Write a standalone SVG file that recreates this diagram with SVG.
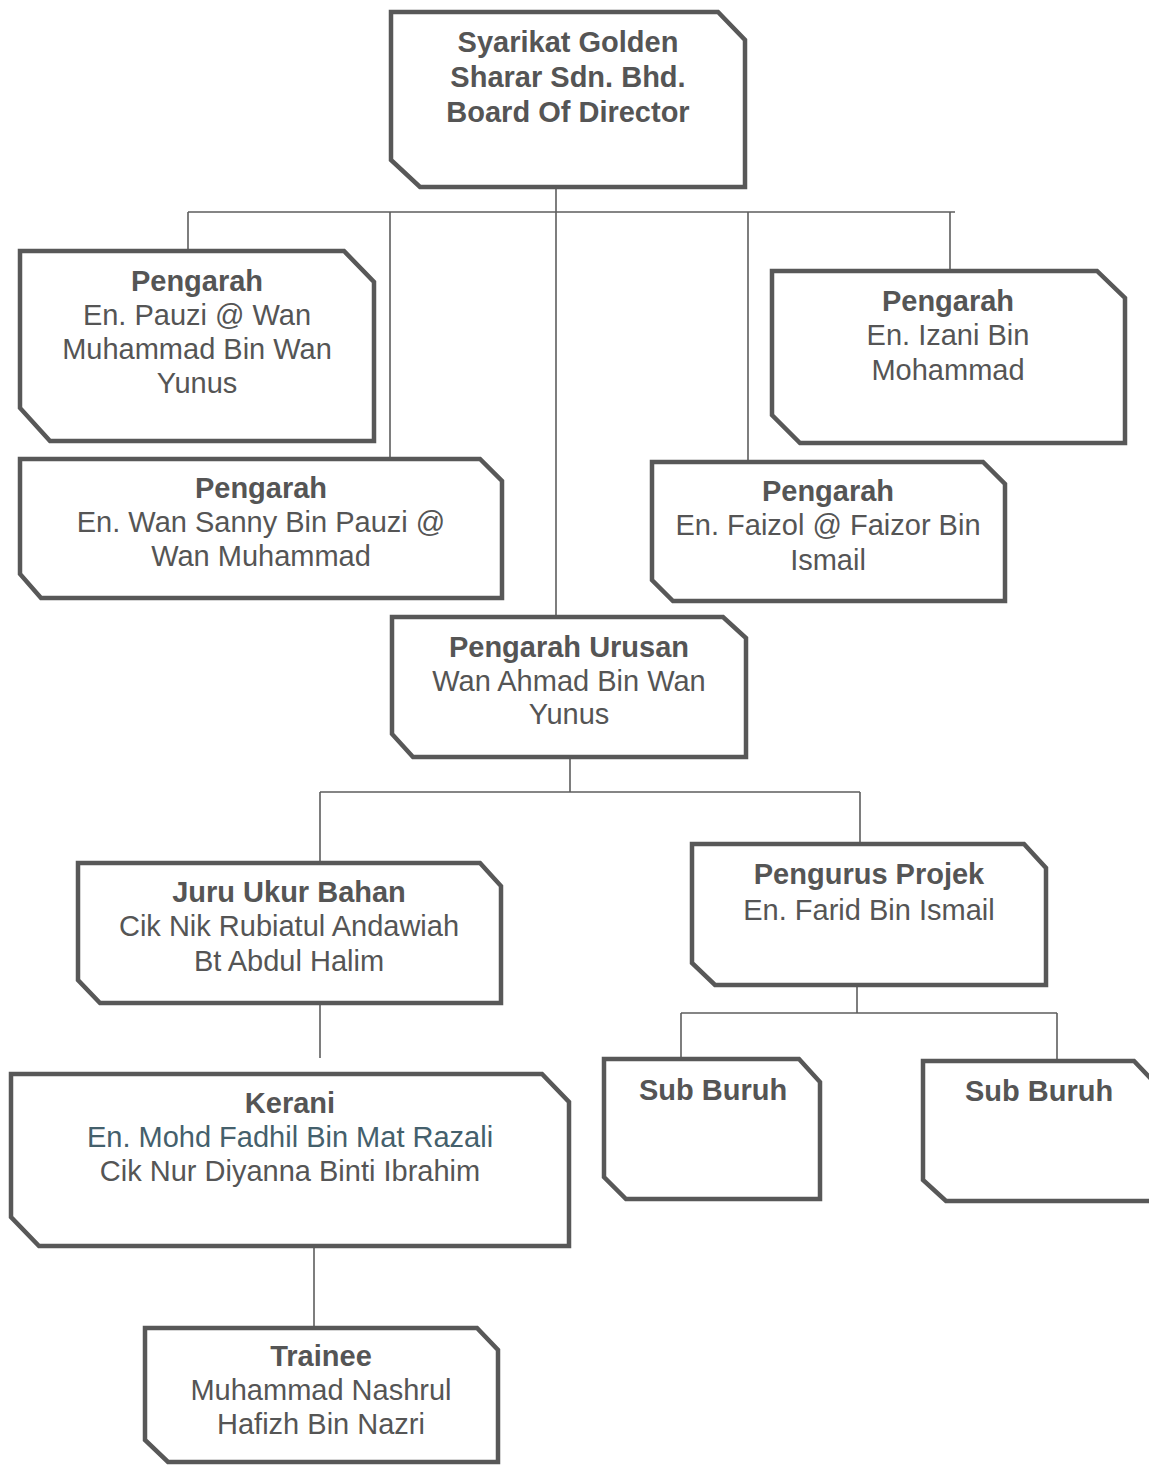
<svg xmlns="http://www.w3.org/2000/svg" width="1149" height="1465" viewBox="0 0 1149 1465">
<style>
.box{fill:#fff;stroke:#585858;stroke-width:4.5;stroke-linejoin:miter}
.ln{stroke:#5e5e5e;stroke-width:1.6;fill:none}
text{font-family:"Liberation Sans",Arial,sans-serif;font-size:29px;fill:#555;text-anchor:middle}
.b{font-weight:bold}
.teal{fill:#44606c}
</style>
<rect width="1149" height="1465" fill="#fff"/>
<g id="connectors">
<path class="ln" d="M556,187V212M188,212H955M188,212V251M390,212V458M556,212V617M748,212V461M950,212V270"/>
<path class="ln" d="M570,757V792M320,792H860M320,792V862M860,792V843"/>
<path class="ln" d="M320,1004V1058"/>
<path class="ln" d="M857,985V1013M681,1013H1057M681,1013V1058M1057,1013V1060"/>
<path class="ln" d="M314,1247V1327"/>
</g>
<g id="board">
<path class="box" d="M391,12H718L745,40V187H420L391,160Z"/>
<text class="b" x="568" y="52">Syarikat Golden</text>
<text class="b" x="568" y="87">Sharar Sdn. Bhd.</text>
<text class="b" x="568" y="122">Board Of Director</text>
</g>
<g id="pengarah-pauzi">
<path class="box" d="M20,251H344L374,282V441H50L20,408Z"/>
<text class="b" x="197" y="291">Pengarah</text>
<text x="197" y="325">En. Pauzi @ Wan</text>
<text x="197" y="359">Muhammad Bin Wan</text>
<text x="197" y="393">Yunus</text>
</g>
<g id="pengarah-sanny">
<path class="box" d="M20,459H480L502,481V598H41L20,574Z"/>
<text class="b" x="261" y="498">Pengarah</text>
<text x="261" y="532">En. Wan Sanny Bin Pauzi @</text>
<text x="261" y="566">Wan Muhammad</text>
</g>
<g id="pengarah-izani">
<path class="box" d="M772,271H1097L1125,298V443H800L772,415Z"/>
<text class="b" x="948" y="311">Pengarah</text>
<text x="948" y="345">En. Izani Bin</text>
<text x="948" y="380">Mohammad</text>
</g>
<g id="pengarah-faizol">
<path class="box" d="M652,462H983L1005,484V601H673L652,580Z"/>
<text class="b" x="828" y="501">Pengarah</text>
<text x="828" y="535">En. Faizol @ Faizor Bin</text>
<text x="828" y="570">Ismail</text>
</g>
<g id="pengarah-urusan">
<path class="box" d="M392,617H723L746,638V757H413L392,734Z"/>
<text class="b" x="569" y="657">Pengarah Urusan</text>
<text x="569" y="691">Wan Ahmad Bin Wan</text>
<text x="569" y="724">Yunus</text>
</g>
<g id="juru-ukur">
<path class="box" d="M78,863H480L501,886V1003H100L78,980Z"/>
<text class="b" x="289" y="902">Juru Ukur Bahan</text>
<text x="289" y="936">Cik Nik Rubiatul Andawiah</text>
<text x="289" y="971">Bt Abdul Halim</text>
</g>
<g id="pengurus-projek">
<path class="box" d="M692,844H1024L1046,868V985H715L692,963Z"/>
<text class="b" x="869" y="884">Pengurus Projek</text>
<text x="869" y="920">En. Farid Bin Ismail</text>
</g>
<g id="sub-buruh-1">
<path class="box" d="M604,1059H799L820,1082V1199H626L604,1177Z"/>
<text class="b" x="713" y="1100">Sub Buruh</text>
</g>
<g id="sub-buruh-2">
<path class="box" d="M923,1061H1134L1156,1084V1201H946L923,1180Z"/>
<text class="b" x="1039" y="1101">Sub Buruh</text>
</g>
<g id="kerani">
<path class="box" d="M11,1074H542L569,1102V1246H39L11,1217Z"/>
<text class="b" x="290" y="1113">Kerani</text>
<text class="teal" x="290" y="1147">En. Mohd Fadhil Bin Mat Razali</text>
<text x="290" y="1181">Cik Nur Diyanna Binti Ibrahim</text>
</g>
<g id="trainee">
<path class="box" d="M145,1328H477L498,1350V1462H168L145,1440Z"/>
<text class="b" x="321" y="1366">Trainee</text>
<text x="321" y="1400">Muhammad Nashrul</text>
<text x="321" y="1434">Hafizh Bin Nazri</text>
</g>
</svg>
